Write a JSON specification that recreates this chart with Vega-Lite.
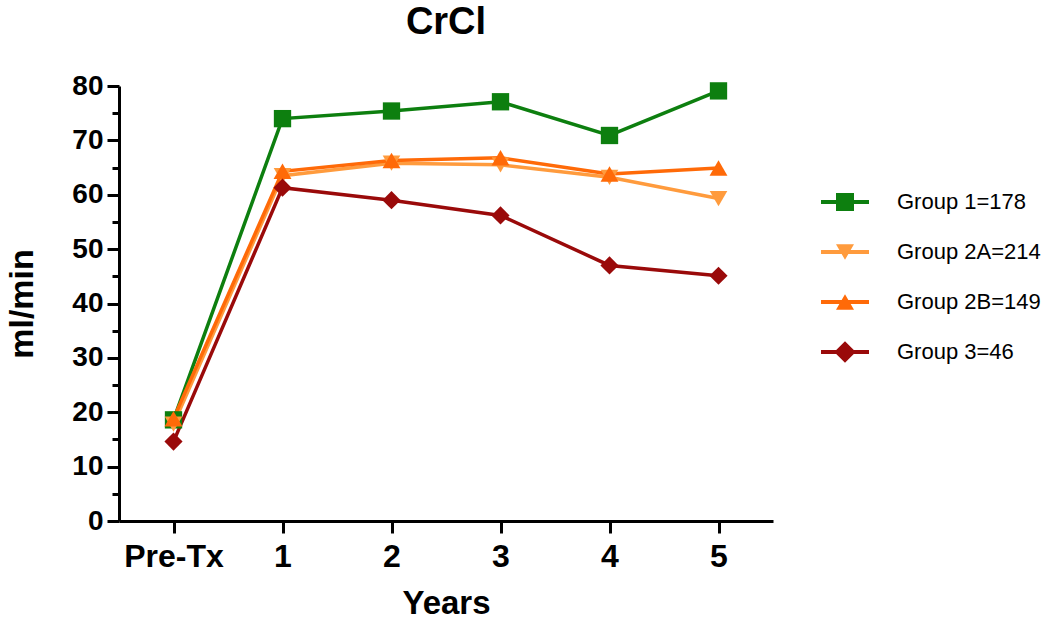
{
  "$schema": "https://vega.github.io/schema/vega-lite/v6.json",
  "width": 654,
  "height": 435,
  "autosize": "none",
  "padding": {"left": 119, "top": 86, "right": 277, "bottom": 98},
  "background": "white",
  "title": {
    "text": "CrCl",
    "font": "Liberation Sans",
    "fontSize": 38,
    "fontWeight": "bold",
    "color": "black",
    "anchor": "middle",
    "frame": "group",
    "baseline": "alphabetic",
    "offset": 0
  },
  "config": {"view": {"stroke": null}},
  "data": {
    "values": [
      {"group": "Group 1=178", "time": "Pre-Tx", "crcl": 18.6},
      {"group": "Group 1=178", "time": "1", "crcl": 74.0},
      {"group": "Group 1=178", "time": "2", "crcl": 75.4},
      {"group": "Group 1=178", "time": "3", "crcl": 77.1},
      {"group": "Group 1=178", "time": "4", "crcl": 70.9},
      {"group": "Group 1=178", "time": "5", "crcl": 79.1},
      {"group": "Group 2A=214", "time": "Pre-Tx", "crcl": 17.8},
      {"group": "Group 2A=214", "time": "1", "crcl": 63.5},
      {"group": "Group 2A=214", "time": "2", "crcl": 65.8},
      {"group": "Group 2A=214", "time": "3", "crcl": 65.5},
      {"group": "Group 2A=214", "time": "4", "crcl": 63.2},
      {"group": "Group 2A=214", "time": "5", "crcl": 59.3},
      {"group": "Group 2B=149", "time": "Pre-Tx", "crcl": 18.8},
      {"group": "Group 2B=149", "time": "1", "crcl": 64.3},
      {"group": "Group 2B=149", "time": "2", "crcl": 66.3},
      {"group": "Group 2B=149", "time": "3", "crcl": 66.8},
      {"group": "Group 2B=149", "time": "4", "crcl": 63.8},
      {"group": "Group 2B=149", "time": "5", "crcl": 64.9},
      {"group": "Group 3=46", "time": "Pre-Tx", "crcl": 14.6},
      {"group": "Group 3=46", "time": "1", "crcl": 61.3},
      {"group": "Group 3=46", "time": "2", "crcl": 59.0},
      {"group": "Group 3=46", "time": "3", "crcl": 56.2},
      {"group": "Group 3=46", "time": "4", "crcl": 47.0},
      {"group": "Group 3=46", "time": "5", "crcl": 45.1}
    ]
  },
  "encoding": {
    "x": {
      "field": "time",
      "type": "ordinal",
      "sort": ["Pre-Tx", "1", "2", "3", "4", "5"],
      "scale": {"type": "point", "padding": 0.5},
      "axis": {
        "title": "Years",
        "titleFont": "Liberation Sans",
        "titleFontSize": 33,
        "titleFontWeight": "bold",
        "titleColor": "black",
        "titleBaseline": "alphabetic",
        "titleY": 92,
        "labelFont": "Liberation Sans",
        "labelFontSize": 32,
        "labelFontWeight": "bold",
        "labelColor": "black",
        "labelAngle": 0,
        "labelPadding": 8,
        "tickSize": 12,
        "tickWidth": 3,
        "tickColor": "black",
        "domainWidth": 3,
        "domainColor": "black",
        "grid": false
      }
    },
    "y": {
      "field": "crcl",
      "type": "quantitative",
      "scale": {"domain": [0, 80], "nice": false},
      "axis": {
        "values": [0, 5, 10, 15, 20, 25, 30, 35, 40, 45, 50, 55, 60, 65, 70, 75, 80],
        "labelExpr": "datum.value % 10 === 0 ? datum.label : ''",
        "tickSize": {"condition": {"test": "datum.value % 10 !== 0", "value": 7}, "value": 12},
        "title": "ml/min",
        "titleFont": "Liberation Sans",
        "titleFontSize": 34,
        "titleFontWeight": "bold",
        "titleColor": "black",
        "titleAngle": -90,
        "titleAlign": "center",
        "titleBaseline": "alphabetic",
        "titleX": -87,
        "titleY": 217.5,
        "labelFont": "Liberation Sans",
        "labelFontSize": 28,
        "labelFontWeight": "bold",
        "labelColor": "black",
        "labelPadding": 4,
        "tickWidth": 3,
        "tickColor": "black",
        "domainWidth": 3,
        "domainColor": "black",
        "grid": false
      }
    },
    "color": {
      "field": "group",
      "type": "nominal",
      "scale": {
        "domain": ["Group 1=178", "Group 2A=214", "Group 2B=149", "Group 3=46"],
        "range": ["#0d7f0f", "#ff9b3d", "#ff6a08", "#9a0a0a"]
      },
      "legend": null
    }
  },
  "resolve": {"scale": {"fill": "independent", "shape": "independent"}},
  "layer": [
    {
      "transform": [{"filter": "false"}],
      "mark": {"type": "point", "filled": true, "opacity": 1, "strokeWidth": 0},
      "encoding": {
        "fill": {
          "field": "group",
          "type": "nominal",
          "scale": {
            "domain": ["Group 1=178", "Group 2A=214", "Group 2B=149", "Group 3=46"],
            "range": ["#0d7f0f", "#ff9b3d", "#ff6a08", "#9a0a0a"]
          },
          "legend": {
            "title": null,
            "orient": "none",
            "legendX": 714,
            "legendY": 104,
            "labelFont": "Liberation Sans",
            "labelFontSize": 22,
            "labelColor": "black",
            "labelOffset": 40,
            "rowPadding": 27,
            "symbolSize": 576,
            "symbolStrokeWidth": 0,
            "symbolOpacity": 1
          }
        },
        "shape": {
          "field": "group",
          "type": "nominal",
          "scale": {
            "domain": ["Group 1=178", "Group 2A=214", "Group 2B=149", "Group 3=46"],
            "range": [
              "M-2,-0.17H2V0.17H-2Z M-0.75,-0.75H0.75V0.75H-0.75Z",
              "M-2,-0.17H2V0.17H-2Z M-0.75,-0.65H0.75L0,0.65Z",
              "M-2,-0.17H2V0.17H-2Z M0.75,0.65H-0.75L0,-0.65Z",
              "M-2,-0.17H2V0.17H-2Z M-0.9,0L0,-0.9L0.9,0L0,0.9Z"
            ]
          },
          "legend": {
            "title": null,
            "orient": "none",
            "legendX": 714,
            "legendY": 104,
            "labelFont": "Liberation Sans",
            "labelFontSize": 22,
            "labelColor": "black",
            "labelOffset": 40,
            "rowPadding": 27,
            "symbolSize": 576,
            "symbolStrokeWidth": 0,
            "symbolOpacity": 1
          }
        }
      }
    },
    {"mark": {"type": "line", "strokeWidth": 3.5}},
    {
      "mark": {"type": "point", "filled": true, "opacity": 1, "strokeWidth": 0},
      "encoding": {
        "shape": {
          "field": "group",
          "type": "nominal",
          "scale": {
            "domain": ["Group 1=178", "Group 2A=214", "Group 2B=149", "Group 3=46"],
            "range": ["square", "triangle-down", "triangle-up", "diamond"]
          },
          "legend": null
        },
        "size": {
          "field": "group",
          "type": "nominal",
          "scale": {
            "domain": ["Group 1=178", "Group 2A=214", "Group 2B=149", "Group 3=46"],
            "range": [300, 330, 330, 450]
          },
          "legend": null
        }
      }
    }
  ]
}
